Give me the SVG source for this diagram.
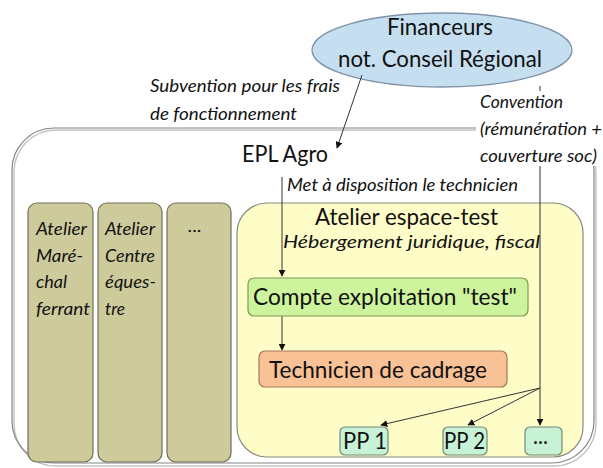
<svg xmlns="http://www.w3.org/2000/svg" width="603" height="468" viewBox="0 0 603 468">
<defs>
<marker id="ah" viewBox="0 0 10 10" refX="9" refY="5" markerWidth="7" markerHeight="7" orient="auto" markerUnits="userSpaceOnUse">
<path d="M0,0 L10,5 L0,10 z" fill="#111"/>
</marker>
<style>
text{font-family:Lato,"Open Sans","Liberation Sans",sans-serif;fill:#111}
.big{font-size:24px}
.it{font-size:17px;font-style:italic}
.col{fill:#cdcb9b;stroke:#6f6f5a;stroke-width:1.2}
.con{stroke:#333;stroke-width:1;fill:none}
.lab{fill:#fff}
.pp{fill:#c8f2d6;stroke:#6f8a78;stroke-width:1.2}
</style>
</defs>
<rect width="603" height="468" fill="#fff"/>
<g id="epl">
<rect x="14" y="130" width="582" height="336" rx="42" fill="none" stroke="#c4c4c4" stroke-width="1.5"/>
<rect x="12" y="128" width="582" height="335" rx="42" fill="none" stroke="#858585" stroke-width="1.2"/>
</g>
<g id="ateliers">
<g id="marechal">
<rect class="col" x="28" y="203" width="65" height="259" rx="9"/>
<text class="it" x="36" y="235" textLength="51" lengthAdjust="spacingAndGlyphs">Atelier</text>
<text class="it" x="36" y="262" textLength="47" lengthAdjust="spacingAndGlyphs">Maré-</text>
<text class="it" x="36" y="288" textLength="31" lengthAdjust="spacingAndGlyphs">chal</text>
<text class="it" x="36" y="315" textLength="54" lengthAdjust="spacingAndGlyphs">ferrant</text>
</g>
<g id="centre">
<rect class="col" x="98" y="203" width="64" height="259" rx="9"/>
<text class="it" x="105" y="235" textLength="50" lengthAdjust="spacingAndGlyphs">Atelier</text>
<text class="it" x="105" y="262" textLength="50" lengthAdjust="spacingAndGlyphs">Centre</text>
<text class="it" x="105" y="288" textLength="51" lengthAdjust="spacingAndGlyphs">éques-</text>
<text class="it" x="105" y="315" textLength="20" lengthAdjust="spacingAndGlyphs">tre</text>
</g>
<g id="autres">
<rect class="col" x="167" y="203" width="64" height="259" rx="9"/>
<text class="it" x="188" y="232" textLength="14" lengthAdjust="spacingAndGlyphs">...</text>
</g>
</g>
<g id="espace-test">
<rect x="237" y="203" width="346" height="254" rx="30" fill="#fefdc8" stroke="#8a8a80" stroke-width="1.2"/>
<text class="big" x="315" y="225" textLength="183" lengthAdjust="spacingAndGlyphs">Atelier espace-test</text>
<text class="it" x="283" y="248" textLength="257" lengthAdjust="spacingAndGlyphs">Hébergement juridique, fiscal</text>
</g>
<g id="financeurs">
<ellipse cx="442" cy="50" rx="130" ry="37" fill="#c6dff0" stroke="#7f93a8" stroke-width="1.3"/>
<text class="big" x="387" y="35" textLength="106" lengthAdjust="spacingAndGlyphs">Financeurs</text>
<text class="big" x="338" y="67" textLength="204" lengthAdjust="spacingAndGlyphs">not. Conseil Régional</text>
</g>
<g id="connectors">
<line class="con" x1="362" y1="75" x2="337" y2="148" marker-end="url(#ah)"/>
<line class="con" x1="540" y1="86" x2="540" y2="425" stroke="#777" marker-end="url(#ah)"/>
<line class="con" x1="282" y1="177" x2="282" y2="276" marker-end="url(#ah)"/>
<line class="con" x1="282" y1="316" x2="282" y2="350" marker-end="url(#ah)"/>
<line class="con" x1="540" y1="388" x2="381" y2="425" marker-end="url(#ah)"/>
<line class="con" x1="540" y1="388" x2="468" y2="425" marker-end="url(#ah)"/>
</g>
<g id="labels">
<rect class="lab" x="146" y="76" width="196" height="50"/>
<text class="it" x="150" y="92" textLength="190" lengthAdjust="spacingAndGlyphs">Subvention pour les frais</text>
<text class="it" x="150" y="120" textLength="147" lengthAdjust="spacingAndGlyphs">de fonctionnement</text>
<rect class="lab" x="476" y="91" width="127" height="75"/>
<text class="it" x="480" y="108" textLength="83" lengthAdjust="spacingAndGlyphs">Convention</text>
<text class="it" x="480" y="135" textLength="122" lengthAdjust="spacingAndGlyphs">(rémunération +</text>
<text class="it" x="480" y="162" textLength="117" lengthAdjust="spacingAndGlyphs">couverture soc)</text>
<text class="big" x="242" y="162" textLength="86" lengthAdjust="spacingAndGlyphs">EPL Agro</text>
<text class="it" x="287" y="191" textLength="231" lengthAdjust="spacingAndGlyphs">Met à disposition le technicien</text>
</g>
<g id="compte">
<rect x="248" y="278" width="280" height="38" rx="6" fill="#cdf49c" stroke="#7a9a5a" stroke-width="1.2"/>
<text class="big" x="253" y="305" textLength="264" lengthAdjust="spacingAndGlyphs">Compte exploitation "test"</text>
</g>
<g id="technicien">
<rect x="259" y="351" width="248" height="36" rx="6" fill="#f8c196" stroke="#a07a5a" stroke-width="1.2"/>
<text class="big" x="269" y="378" textLength="218" lengthAdjust="spacingAndGlyphs">Technicien de cadrage</text>
</g>
<g id="pp1">
<rect class="pp" x="340" y="427" width="48" height="28" rx="5"/>
<text class="big" x="343" y="449" textLength="44" lengthAdjust="spacingAndGlyphs">PP 1</text>
</g>
<g id="pp2">
<rect class="pp" x="443" y="427" width="44" height="28" rx="5"/>
<text class="big" x="444" y="449" textLength="41" lengthAdjust="spacingAndGlyphs">PP 2</text>
</g>
<g id="ppn">
<rect class="pp" x="525" y="427" width="37" height="28" rx="5"/>
<text class="big" x="533" y="444" textLength="15" lengthAdjust="spacingAndGlyphs">...</text>
</g>
</svg>
